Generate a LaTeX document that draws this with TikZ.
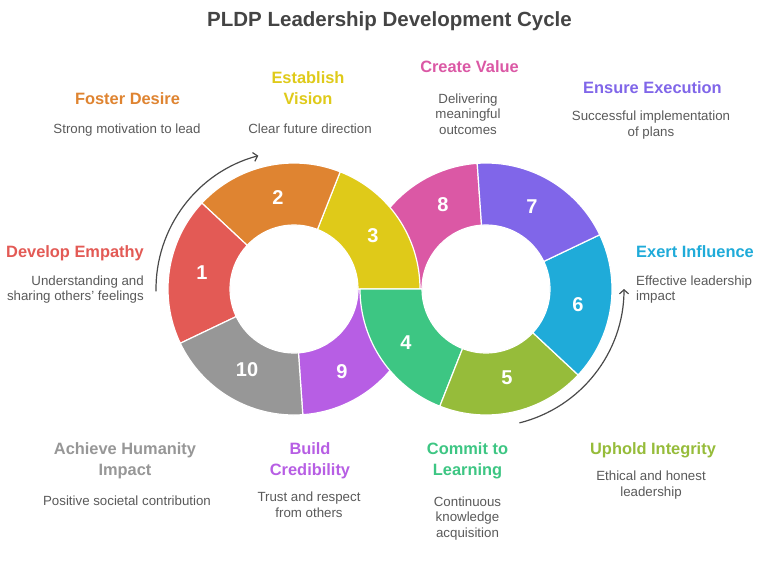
\documentclass[tikz,border=0pt]{standalone}
\usepackage{fontspec}
\setmainfont{Liberation Sans}
\usetikzlibrary{arrows.meta}
\definecolor{cred}{HTML}{E35A55}
\definecolor{corange}{HTML}{DF8431}
\definecolor{cyellow}{HTML}{DFCA19}
\definecolor{cpink}{HTML}{DB58A5}
\definecolor{cviolet}{HTML}{8066E9}
\definecolor{cblue}{HTML}{1FABD9}
\definecolor{clime}{HTML}{96BC3A}
\definecolor{cgreen}{HTML}{3DC683}
\definecolor{cpurple}{HTML}{B75EE4}
\definecolor{cgray}{HTML}{979797}
\definecolor{ctitle}{HTML}{444444}
\definecolor{cdesc}{HTML}{5A5A5A}
\definecolor{carrow}{HTML}{4A4A4A}
\newcommand{\ringseg}[5]{%
  \filldraw[segstyle, fill=#5, shift={(#1,#2)}]
    (#3:126) arc[start angle=#3, end angle=#4, radius=126]
    -- (#4:64) arc[start angle=#4, end angle=#3, radius=64] -- cycle;}
\tikzset{
  segstyle/.style={draw=white, line width=1.2pt, line join=round},
  numlabel/.style={text=white, font=\fontsize{20}{24}\selectfont\bfseries, inner sep=0pt},
  heading/.style={font=\fontsize{16.4}{21}\selectfont\bfseries, inner sep=0pt, anchor=base, align=center},
  desc/.style={text=cdesc, font=\fontsize{13.3}{15.5}\selectfont, inner sep=0pt, anchor=base, align=center},
  cyclearrow/.style={draw=carrow, line width=1.2pt, -{Straight Barb[length=4pt,width=9pt]}}
}
\begin{document}
\begin{tikzpicture}[x=1pt,y=1pt]
\useasboundingbox[fill=white] (0,0) rectangle (768,-573);
% title
\node[text=ctitle, font=\fontsize{20.5}{24}\selectfont\bfseries, anchor=base, inner sep=0pt] (title) at (389.5,-26) {PLDP Leadership Development Cycle};
% segments (underlying halves first)
\ringseg{486}{-289}{94}{180}{cpink}
\ringseg{294}{-289}{274}{360}{cpurple}
\ringseg{294}{-289}{0}{68.5}{cyellow}
\ringseg{294}{-289}{68.5}{137}{corange}
\ringseg{294}{-289}{137}{205.5}{cred}
\ringseg{294}{-289}{205.5}{274}{cgray}
\ringseg{486}{-289}{180}{248.5}{cgreen}
\ringseg{486}{-289}{248.5}{317}{clime}
\ringseg{486}{-289}{317}{385.5}{cblue}
\ringseg{486}{-289}{25.5}{94}{cviolet}
% numbers
\node[numlabel] (n1) at (202,-273) {1};
\node[numlabel] (n2) at (278,-198) {2};
\node[numlabel] (n3) at (373,-236) {3};
\node[numlabel] (n4) at (406,-343) {4};
\node[numlabel] (n5) at (507,-378) {5};
\node[numlabel] (n6) at (578,-305) {6};
\node[numlabel] (n7) at (532,-207) {7};
\node[numlabel] (n8) at (443,-205) {8};
\node[numlabel] (n9) at (342,-372) {9};
\node[numlabel] (n10) at (247,-370) {10};
% cycle arrows
\draw[cyclearrow] (294,-289) ++(181:138) arc[start angle=181, end angle=105, radius=138];
\draw[cyclearrow] (486,-289) ++(284:138) arc[start angle=284, end angle=360, radius=138];
% headings and descriptions (base = baseline of last line)
\node[heading, text=corange] (h2) at (127.5,-104) {Foster Desire};
\node[desc] (d2) at (127,-133) {Strong motivation to lead};
\node[heading, text=cyellow] (h3) at (308,-104) {Establish\\Vision};
\node[desc] (d3) at (310,-133) {Clear future direction};
\node[heading, text=cpink] (h8) at (469.5,-72) {Create Value};
\node[desc] (d8) at (468,-134) {Delivering\\meaningful\\outcomes};
\node[heading, text=cviolet] (h7) at (652.5,-93) {Ensure Execution};
\node[desc] (d7) at (651,-136) {Successful implementation\\of plans};
\node[heading, text=cred, anchor=base east] (h1) at (144,-257) {Develop Empathy};
\node[desc, anchor=base east, align=right] (d1) at (144,-300.7) {Understanding and\\sharing others' feelings};
\node[heading, text=cblue, anchor=base west] (h6) at (636,-257) {Exert Influence};
\node[desc, anchor=base west, align=left] (d6) at (636,-300.7) {Effective leadership\\impact};
\node[heading, text=cgray] (h10) at (125,-475) {Achieve Humanity\\Impact};
\node[desc] (d10) at (127,-505) {Positive societal contribution};
\node[heading, text=cpurple] (h9) at (310,-475) {Build\\Credibility};
\node[desc] (d9) at (309,-517) {Trust and respect\\from others};
\node[heading, text=cgreen] (h4) at (467.5,-475) {Commit to\\Learning};
\node[desc] (d4) at (467.5,-537) {Continuous\\knowledge\\acquisition};
\node[heading, text=clime] (h5) at (653,-454) {Uphold Integrity};
\node[desc] (d5) at (651,-496) {Ethical and honest\\leadership};
\end{tikzpicture}
\end{document}
